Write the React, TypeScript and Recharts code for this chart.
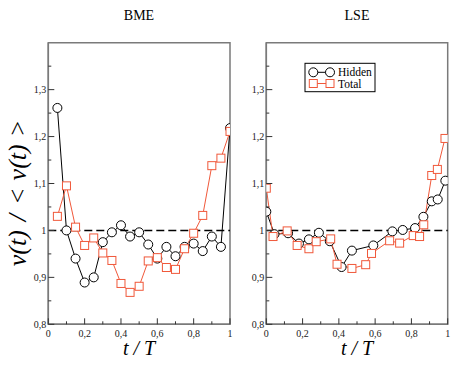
import React from "react";
import { LineChart, Line, XAxis, YAxis, ReferenceLine, ReferenceArea } from "recharts";

const seriesNames = ["Hidden", "Total"];
const panelTitles = ["BME", "LSE"];

const xTicks = [0, 0.1, 0.2, 0.3, 0.4, 0.5, 0.6, 0.7, 0.8, 0.9, 1];
const yTicks = [0.8, 0.85, 0.9, 0.95, 1, 1.05, 1.1, 1.15, 1.2, 1.25, 1.3, 1.35];

// BME panel
const bmeT = [0.05, 0.1, 0.15, 0.2, 0.25, 0.3, 0.35, 0.4, 0.45, 0.5, 0.55, 0.6, 0.65, 0.7, 0.75, 0.8, 0.85, 0.9, 0.95, 1];
const bmeHidden = [1.261, 1.0, 0.94, 0.889, 0.9, 0.975, 0.996, 1.011, 0.987, 0.996, 0.97, 0.94, 0.965, 0.945, 0.965, 0.972, 0.956, 0.987, 0.965, 1.218];
const bmeTotal = [1.03, 1.095, 1.007, 0.968, 0.984, 0.952, 0.936, 0.887, 0.868, 0.881, 0.935, 0.942, 0.921, 0.917, 0.961, 0.994, 1.032, 1.138, 1.154, 1.211];

// LSE panel
const lseHiddenT = [0, 0.045, 0.12, 0.18, 0.235, 0.29, 0.35, 0.415, 0.472, 0.59, 0.695, 0.752, 0.82, 0.866, 0.912, 0.945, 0.987];
const lseHidden = [1.04, 0.992, 0.994, 0.972, 0.981, 0.995, 0.977, 0.922, 0.957, 0.968, 0.998, 1.001, 1.005, 1.029, 1.062, 1.066, 1.106];
const lseTotalT = [0, 0.037, 0.115, 0.17, 0.235, 0.275, 0.355, 0.39, 0.472, 0.548, 0.58, 0.68, 0.735, 0.81, 0.845, 0.868, 0.912, 0.943, 0.985];
const lseTotal = [1.09, 0.987, 0.999, 0.968, 0.961, 0.976, 0.982, 0.928, 0.919, 0.927, 0.951, 0.978, 0.973, 0.989, 0.987, 1.012, 1.117, 1.13, 1.196];

const RED = "#f0583a";
const FRAME = "#7a7a7a";
const SERIF = "Liberation Serif, Times New Roman, serif";

const isInt = (v: number) => Math.abs(v - Math.round(v)) < 1e-6;
const isMajorX = (v: number) => isInt(v * 10) && Math.round(v * 10) % 2 === 0;
const isMajorY = (v: number) => isInt(v * 10);
const fmt = (v: number) => (isInt(v) ? String(Math.round(v)) : v.toFixed(1).replace(".", ","));

const BottomTick = (props: any) => {
  const { x, y, payload } = props;
  const major = isMajorX(payload.value);
  return (
    <g>
      <line x1={x} y1={y} x2={x} y2={y - (major ? 6 : 3)} stroke="#333" strokeWidth={1} />
      {major && (
        <text x={x} y={y + 13} textAnchor="middle" fontSize={10} fontFamily={SERIF} fill="#222">
          {fmt(payload.value)}
        </text>
      )}
    </g>
  );
};

const TopTick = (props: any) => {
  const { x, y, payload } = props;
  const major = isMajorX(payload.value);
  return <line x1={x} y1={y} x2={x} y2={y + (major ? 6 : 3)} stroke="#333" strokeWidth={1} />;
};

const LeftTick = (props: any) => {
  const { x, y, payload } = props;
  const major = isMajorY(payload.value);
  return (
    <g>
      <line x1={x} y1={y} x2={x + (major ? 6 : 3)} y2={y} stroke="#333" strokeWidth={1} />
      {major && (
        <text x={x - 2} y={y + 3.5} textAnchor="end" fontSize={10} fontFamily={SERIF} fill="#222">
          {fmt(payload.value)}
        </text>
      )}
    </g>
  );
};

const RightTick = (props: any) => {
  const { x, y, payload } = props;
  const major = isMajorY(payload.value);
  return <line x1={x} y1={y} x2={x - (major ? 6 : 3)} y2={y} stroke="#333" strokeWidth={1} />;
};

const squareDot = (p: any) => (
  <rect key={`sq-${p.index}`} x={p.cx - 4} y={p.cy - 4} width={8} height={8} fill="#fff" stroke={RED} strokeWidth={1} />
);

type PanelProps = {
  hidden: { t: number; v: number }[];
  total: { t: number; v: number }[];
  marginLeft: number;
  marginRight: number;
};

const Panel: React.FC<PanelProps> = ({ hidden, total, marginLeft, marginRight }) => (
  <LineChart
    width={240}
    height={367}
    margin={{ top: 41.7, right: marginRight, bottom: 22.7, left: marginLeft }}
  >
    <XAxis
      dataKey="t"
      type="number"
      domain={[0, 1]}
      ticks={xTicks}
      interval={0}
      height={20}
      tickSize={0}
      tickMargin={0}
      tickLine={false}
      axisLine={{ stroke: FRAME, strokeWidth: 1.5 }}
      tick={<BottomTick />}
      allowDataOverflow
    />
    <XAxis
      xAxisId="top"
      orientation="top"
      type="number"
      domain={[0, 1]}
      ticks={xTicks}
      interval={0}
      height={1}
      tickSize={0}
      tickMargin={0}
      tickLine={false}
      axisLine={false}
      tick={<TopTick />}
      allowDataOverflow
    />
    <YAxis
      type="number"
      domain={[0.8, 1.4]}
      ticks={yTicks}
      interval={0}
      width={40}
      tickSize={0}
      tickMargin={0}
      tickLine={false}
      axisLine={{ stroke: FRAME, strokeWidth: 1.5 }}
      tick={<LeftTick />}
      allowDataOverflow
    />
    <YAxis
      yAxisId="right"
      orientation="right"
      type="number"
      domain={[0.8, 1.4]}
      ticks={yTicks}
      interval={0}
      width={0}
      tickSize={0}
      tickMargin={0}
      tickLine={false}
      axisLine={false}
      tick={<RightTick />}
      allowDataOverflow
    />
    <ReferenceArea x1={0} x2={1} y1={0.8} y2={1.4} fill="none" fillOpacity={0} stroke={FRAME} strokeWidth={1.5} />
    <ReferenceLine y={1} stroke="#000" strokeWidth={1.5} strokeDasharray="8 4" />
    <Line
      data={hidden}
      dataKey="v"
      name={seriesNames[0]}
      type="linear"
      stroke="#000"
      strokeWidth={1}
      dot={{ r: 4.5, stroke: "#000", strokeWidth: 1, fill: "#fff" }}
      isAnimationActive={false}
    />
    <Line
      data={total}
      dataKey="v"
      name={seriesNames[1]}
      type="linear"
      stroke={RED}
      strokeWidth={1}
      dot={squareDot}
      isAnimationActive={false}
    />
  </LineChart>
);

const pairs = (ts: number[], vs: number[]) => ts.map((t, i) => ({ t, v: vs[i] }));

export default function App() {
  return (
    <div style={{ position: "absolute", left: 0, top: 0, width: 463, height: 367, background: "#fff", overflow: "hidden" }}>
      <div style={{ position: "absolute", left: 0, top: 0 }}>
        <Panel hidden={pairs(bmeT, bmeHidden)} total={pairs(bmeT, bmeTotal)} marginLeft={8.3} marginRight={10} />
      </div>
      <div style={{ position: "absolute", left: 220, top: 0 }}>
        <Panel hidden={pairs(lseHiddenT, lseHidden)} total={pairs(lseTotalT, lseTotal)} marginLeft={6.3} marginRight={12.3} />
      </div>
      <svg width={463} height={367} style={{ position: "absolute", left: 0, top: 0, pointerEvents: "none" }}>
        <text x={139} y={20} textAnchor="middle" fontSize={14} fontFamily={SERIF}>{panelTitles[0]}</text>
        <text x={357} y={20} textAnchor="middle" fontSize={14} fontFamily={SERIF}>{panelTitles[1]}</text>
        <text x={139} y={355} textAnchor="middle" fontSize={20} fontStyle="italic" fontFamily={SERIF}>t / T</text>
        <text x={357} y={355} textAnchor="middle" fontSize={20} fontStyle="italic" fontFamily={SERIF}>t / T</text>
        <text
          x={0}
          y={0}
          transform="translate(26,193) rotate(-90)"
          textAnchor="middle"
          fontSize={26}
          fontStyle="italic"
          fontFamily={SERIF}
        >
          <tspan>v(t)</tspan>
          <tspan dx={9}>/</tspan>
          <tspan dx={9}>&lt;</tspan>
          <tspan dx={7}>v(t)</tspan>
          <tspan dx={7}>&gt;</tspan>
        </text>
        {/* legend */}
        <rect x={305} y={63.3} width={70} height={28.4} fill="#fff" stroke="#000" strokeWidth={1} />
        <line x1={313.3} y1={72.3} x2={330} y2={72.3} stroke="#000" />
        <circle cx={313.3} cy={72.3} r={4.5} fill="#fff" stroke="#000" />
        <circle cx={330} cy={72.3} r={4.5} fill="#fff" stroke="#000" />
        <text x={338} y={76.3} fontSize={11.5} fontFamily={SERIF}>{seriesNames[0]}</text>
        <line x1={313.3} y1={83.5} x2={330} y2={83.5} stroke={RED} />
        <rect x={309.3} y={79.5} width={8} height={8} fill="#fff" stroke={RED} />
        <rect x={326} y={79.5} width={8} height={8} fill="#fff" stroke={RED} />
        <text x={338} y={87.5} fontSize={11.5} fontFamily={SERIF}>{seriesNames[1]}</text>
      </svg>
    </div>
  );
}
